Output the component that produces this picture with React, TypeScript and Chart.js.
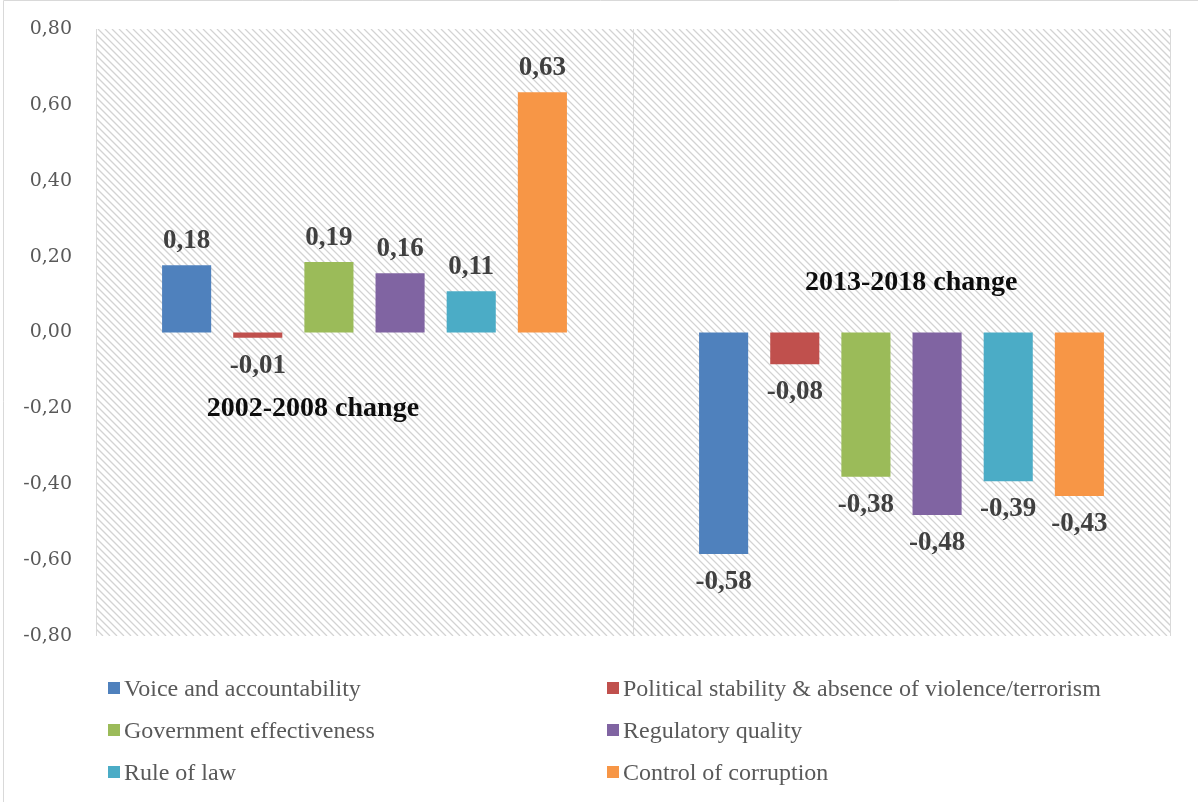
import React, { useEffect, useRef } from 'react';
import { Chart, registerables } from 'chart.js';

Chart.register(...registerables);

// ---- data ----
const categories = ['2002-2008 change', '2013-2018 change'];
const seriesNames = [
  'Voice and accountability',
  'Political stability & absence of violence/terrorism',
  'Government effectiveness',
  'Regulatory quality',
  'Rule of law',
  'Control of corruption',
];
const seriesColors = ['#4f81bd', '#c0504d', '#9bbb59', '#8064a2', '#4bacc6', '#f79646'];
const voiceAccountability = [0.177, -0.584];
const politicalStability = [-0.014, -0.084];
const governmentEffectiveness = [0.186, -0.38];
const regulatoryQuality = [0.156, -0.481];
const ruleOfLaw = [0.109, -0.392];
const controlOfCorruption = [0.633, -0.431];
const seriesValues = [
  voiceAccountability,
  politicalStability,
  governmentEffectiveness,
  regulatoryQuality,
  ruleOfLaw,
  controlOfCorruption,
];
const yMin = -0.8;
const yMax = 0.8;
const yStep = 0.2;
// positions of the in-plot period captions: [x offset as fraction of category width, y value]
const captionAnchors = [
  [-0.096, -0.219],
  [0.018, 0.113],
];

const fmt = (v: number) => {
  const r = Math.round(v * 100) / 100;
  return (r === 0 ? 0 : r).toFixed(2).replace('.', ',');
};

const hatchPlugin = {
  id: 'hatch',
  beforeDraw(chart: any) {
    const { ctx, chartArea } = chart;
    const { left, top, right, bottom } = chartArea;
    const h = bottom - top;
    ctx.save();
    ctx.fillStyle = '#ffffff';
    ctx.fillRect(left, top, right - left, h);
    ctx.beginPath();
    ctx.rect(left, top, right - left, h);
    ctx.clip();
    ctx.strokeStyle = 'rgba(200,200,200,0.8)';
    ctx.lineWidth = 1.3;
    ctx.beginPath();
    for (let k = left - h; k < right; k += 7) {
      ctx.moveTo(k, top);
      ctx.lineTo(k + h, bottom);
    }
    ctx.stroke();
    ctx.restore();
    // outer frame (left and top edges visible)
    ctx.save();
    ctx.strokeStyle = '#d9d9d9';
    ctx.lineWidth = 1;
    ctx.beginPath();
    ctx.moveTo(3.5, 802);
    ctx.lineTo(3.5, 0.5);
    ctx.lineTo(1198, 0.5);
    ctx.stroke();
    ctx.restore();
  },
};

const labelsPlugin = {
  id: 'valueLabels',
  afterDatasetsDraw(chart: any) {
    const { ctx } = chart;
    ctx.save();
    ctx.font = 'bold 27px "Liberation Serif", "Times New Roman", serif';
    ctx.fillStyle = '#404040';
    ctx.textAlign = 'center';
    ctx.textBaseline = 'alphabetic';
    chart.data.datasets.forEach((ds: any, di: number) => {
      const meta = chart.getDatasetMeta(di);
      meta.data.forEach((bar: any, i: number) => {
        const v = ds.data[i];
        const y = v >= 0 ? bar.y - 17 : bar.y + 35;
        ctx.fillText(fmt(v), bar.x, y);
      });
    });
    // period captions
    const xs = chart.scales.x;
    const ys = chart.scales.y;
    const catW = (chart.chartArea.right - chart.chartArea.left) / categories.length;
    ctx.font = 'bold 28px "Liberation Serif", "Times New Roman", serif';
    ctx.fillStyle = '#0d0d0d';
    categories.forEach((c, i) => {
      const [dx, yv] = captionAnchors[i];
      ctx.fillText(c, xs.getPixelForValue(i) + dx * catW, ys.getPixelForValue(yv));
    });
    ctx.restore();
  },
};

const legendPlugin = {
  id: 'twoColLegend',
  afterDraw(chart: any) {
    const { ctx } = chart;
    const colX = [108, 607];
    const rowY = [688, 730, 772];
    ctx.save();
    ctx.font = '24px "Liberation Serif", "Times New Roman", serif';
    ctx.textBaseline = 'alphabetic';
    ctx.textAlign = 'left';
    chart.data.datasets.forEach((ds: any, i: number) => {
      const x = colX[i % 2];
      const y = rowY[Math.floor(i / 2)];
      ctx.fillStyle = ds.backgroundColor;
      ctx.fillRect(x, y - 6, 12, 12);
      ctx.fillStyle = '#595959';
      ctx.fillText(ds.label, x + 16, y + 8);
    });
    ctx.restore();
  },
};

export default function App() {
  const ref = useRef<HTMLCanvasElement | null>(null);
  useEffect(() => {
    if (!ref.current) return;
    const chart = new Chart(ref.current, {
      type: 'bar',
      data: {
        labels: categories,
        datasets: seriesNames.map((name, i) => ({
          label: name,
          data: seriesValues[i],
          backgroundColor: seriesColors[i],
          borderWidth: 0,
          categoryPercentage: 0.795,
          barPercentage: 0.69,
        })),
      },
      options: {
        responsive: false,
        animation: false,
        devicePixelRatio: 1,
        layout: { padding: { left: 0, top: 29, right: 28, bottom: 166 } },
        plugins: {
          legend: { display: false },
          tooltip: { enabled: false },
        },
        scales: {
          x: {
            display: true,
            offset: true,
            grid: { display: true, offset: true, color: '#d9d9d9', lineWidth: 1, drawTicks: false },
            border: { display: false },
            ticks: { display: false },
            afterFit: (s: any) => {
              s.height = 0;
            },
          },
          y: {
            min: yMin,
            max: yMax,
            ticks: {
              stepSize: yStep,
              padding: 24,
              color: '#595959',
              font: { family: '"DejaVu Serif", serif', size: 19 },
              callback: (v: any) => fmt(Number(v)),
            },
            grid: { display: false, drawTicks: false },
            border: { display: false },
            afterFit: (s: any) => {
              s.width = 96;
              s.paddingTop = 0;
              s.paddingBottom = 0;
            },
          },
        },
      } as any,
      plugins: [hatchPlugin, labelsPlugin, legendPlugin],
    });
    return () => chart.destroy();
  }, []);
  return (
    <div style={{ position: 'absolute', left: 0, top: 0, width: 1198, height: 802, background: '#fff' }}>
      <canvas ref={ref} width={1198} height={802} style={{ display: 'block' }} />
    </div>
  );
}
